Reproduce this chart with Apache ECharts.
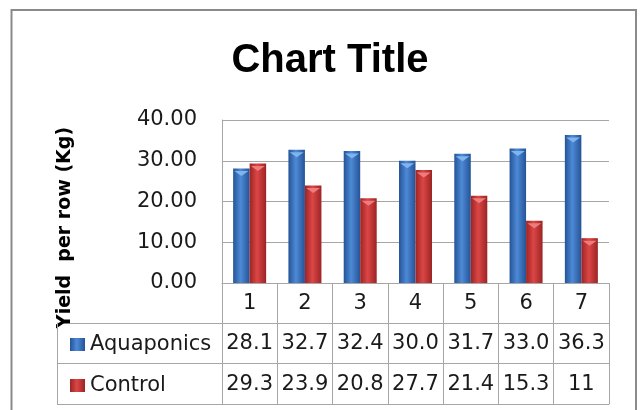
<!DOCTYPE html>
<html>
<head>
<meta charset="utf-8">
<script src="https://cdn.jsdelivr.net/npm/echarts@6/dist/echarts.min.js"></script>
<style>html,body{margin:0;padding:0;background:#fff}#c{width:640px;height:410px}</style>
</head>
<body>
<div id="c"></div>
<script>
var categories = ['1', '2', '3', '4', '5', '6', '7'];
var aquaponics = [28.1, 32.7, 32.4, 30.0, 31.7, 33.0, 36.3];
var control = [29.3, 23.9, 20.8, 27.7, 21.4, 15.3, 11];
var aquaLabels = ['28.1', '32.7', '32.4', '30.0', '31.7', '33.0', '36.3'];
var controlLabels = ['29.3', '23.9', '20.8', '27.7', '21.4', '15.3', '11'];
var yTicks = [0, 10, 20, 30, 40];

var FONT = 'DejaVu Sans';
var GRAY = '#a6a6a6';
var TXT = '#1a1a1a';
var FS = 21;

var chart = echarts.init(document.getElementById('c'), null, {renderer: 'canvas'});

function grad(edge, mid) {
  return new echarts.graphic.LinearGradient(0, 0, 1, 0, [
    {offset: 0, color: edge}, {offset: 0.45, color: mid}, {offset: 1, color: edge}
  ]);
}

var option = {
  backgroundColor: '#fff',
  animation: false,
  title: {
    text: 'Chart Title',
    left: 325, top: 36, textAlign: 'center',
    textStyle: {fontFamily: 'Liberation Sans', fontWeight: 'bold', fontSize: 40, color: '#000'}
  },
  graphic: [{
    type: 'rect', z: -10, silent: true,
    shape: {x: 11.5, y: 10, width: 624.5, height: 430},
    style: {fill: 'none', stroke: '#8a8a8a', lineWidth: 2}
  }],
  legend: [
    {data: ['Aquaponics'], left: 65, top: 329, itemWidth: 15, itemHeight: 13, itemGap: 5, icon: 'rect',
     textStyle: {fontFamily: FONT, fontSize: FS, color: TXT}, selectedMode: false},
    {data: ['Control'], left: 65, top: 370, itemWidth: 15, itemHeight: 13, itemGap: 5, icon: 'rect',
     textStyle: {fontFamily: FONT, fontSize: FS, color: TXT}, selectedMode: false}
  ],
  grid: [
    {left: 222, right: 31, top: 120, height: 163},
    {left: 222, right: 31, top: 283, height: 121},
    {left: 57, width: 165, top: 323, height: 81}
  ],
  xAxis: [
    {gridIndex: 0, type: 'category', data: categories,
     axisLine: {show: true, lineStyle: {color: GRAY, width: 1}},
     axisTick: {show: false},
     axisLabel: {margin: 10, interval: 0, fontFamily: FONT, fontSize: FS, color: TXT}},
    {gridIndex: 0, type: 'category', data: categories, position: 'bottom', offset: 41,
     axisLine: {show: false}, axisTick: {show: false},
     axisLabel: {margin: 9, interval: 0, fontFamily: FONT, fontSize: FS, color: TXT,
       formatter: function (v, i) { return aquaLabels[i]; }}},
    {gridIndex: 0, type: 'category', data: categories, position: 'bottom', offset: 82,
     axisLine: {show: false}, axisTick: {show: false},
     axisLabel: {margin: 9, interval: 0, fontFamily: FONT, fontSize: FS, color: TXT,
       formatter: function (v, i) { return controlLabels[i]; }}},
    {gridIndex: 1, type: 'category', data: categories, boundaryGap: true,
     axisLine: {show: true, lineStyle: {color: GRAY}}, axisTick: {show: false}, axisLabel: {show: false},
     splitLine: {show: true, interval: 0, showMinLine: true, showMaxLine: true, lineStyle: {color: GRAY}}},
    {gridIndex: 2, type: 'value', show: false}
  ],
  yAxis: [
    {gridIndex: 0, type: 'value', min: 0, max: 40, interval: 10,
     axisLine: {show: true, lineStyle: {color: GRAY}},
     axisTick: {show: false},
     splitLine: {show: true, lineStyle: {color: GRAY}},
     axisLabel: {margin: 25, fontFamily: FONT, fontSize: FS, color: TXT,
       formatter: function (v) { return yTicks.indexOf(v) >= 0 ? v.toFixed(2) : ''; }},
     name: 'Yield  per row (Kg)', nameLocation: 'middle', nameGap: 147, nameRotate: 90,
     nameTextStyle: {fontFamily: FONT, fontWeight: 'bold', fontSize: 19, color: '#000', padding: [0, 52, 0, 0]}},
    {gridIndex: 1, type: 'category', data: ['h', 'a', 'c'], boundaryGap: true,
     axisLine: {show: true, lineStyle: {color: GRAY}}, axisTick: {show: false}, axisLabel: {show: false},
     splitLine: {show: true, interval: 0, showMinLine: true, showMaxLine: true, lineStyle: {color: GRAY}}},
    {gridIndex: 2, type: 'category', data: ['a', 'c'], boundaryGap: true,
     axisLine: {show: true, lineStyle: {color: GRAY}}, axisTick: {show: false}, axisLabel: {show: false},
     splitLine: {show: true, interval: 0, showMinLine: true, showMaxLine: true, lineStyle: {color: GRAY}}}
  ],
  series: [
    {name: 'Aquaponics', type: 'bar', xAxisIndex: 0, yAxisIndex: 0, data: aquaponics,
     barWidth: 16.5, barGap: '0%', color: '#3a72c0',
     itemStyle: {color: grad('#255396', '#4d8ad6')}},
    {name: 'Control', type: 'bar', xAxisIndex: 0, yAxisIndex: 0, data: control,
     barWidth: 16.5, barGap: '0%', color: '#c03030',
     itemStyle: {color: grad('#9c2424', '#dc4646')}},
    {name: 'AquaTop', type: 'pictorialBar', xAxisIndex: 0, yAxisIndex: 0, data: aquaponics,
     barWidth: 16.5, barGap: '0%', z: 5, silent: true,
     symbol: 'path://M0,0 L10,0 L5,4 Z', symbolPosition: 'end', symbolSize: [14, 5],
     symbolOffset: [0, '50%'], itemStyle: {color: '#7fb4ee'}},
    {name: 'ControlTop', type: 'pictorialBar', xAxisIndex: 0, yAxisIndex: 0, data: control,
     barWidth: 16.5, barGap: '0%', z: 5, silent: true,
     symbol: 'path://M0,0 L10,0 L5,4 Z', symbolPosition: 'end', symbolSize: [14, 5],
     symbolOffset: [0, '50%'], itemStyle: {color: '#ee7c7c'}}
  ]
};
chart.setOption(option);
</script>
</body>
</html>
